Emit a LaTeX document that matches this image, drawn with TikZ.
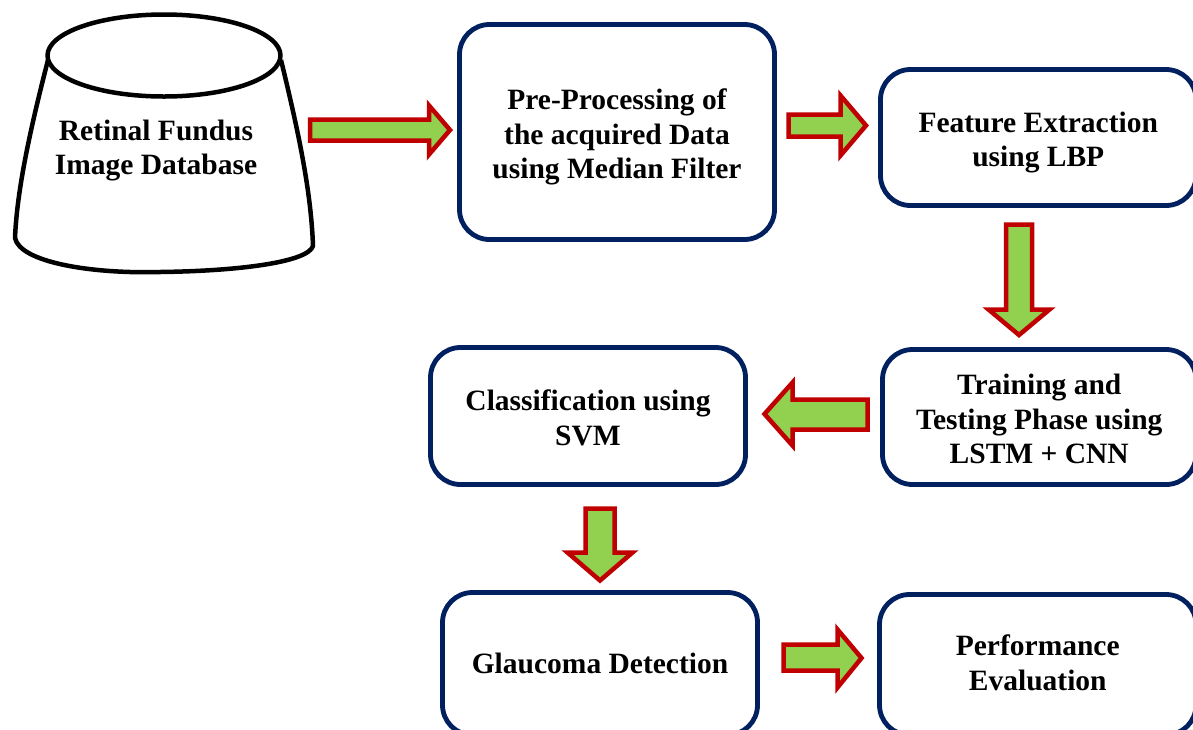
\documentclass[tikz,border=0pt]{standalone}
\usepackage{fontspec}
\setmainfont{Liberation Serif}
\definecolor{navy}{HTML}{002060}
\definecolor{arrred}{HTML}{C00000}
\definecolor{arrgreen}{HTML}{92D050}
\tikzset{
  txtfont/.style={font=\bfseries\fontsize{29.5}{34.5}\selectfont},
  box/.style={draw=navy, line width=4.8pt, rounded corners=30pt, fill=white, inner sep=0pt},
  txt/.style={align=center, inner sep=0pt, txtfont},
  barrow/.style={draw=arrred, fill=arrgreen, line width=4.5pt, line join=miter, miter limit=10},
  cone/.style={draw=black, fill=white, line width=4.5pt, line join=round},
}
\begin{document}
\begin{tikzpicture}[x=1pt,y=-1pt]
\useasboundingbox (0,0) rectangle (1193,729);
\clip (0,0) rectangle (1193,729);
\fill[white] (0,0) rectangle (1193,729);
% database (truncated cone)
\draw[cone] (48,60) .. controls (30,130) and (17,190) .. (15,238)
  .. controls (20,262) and (90,274) .. (160,272)
  .. controls (240,271) and (308,262) .. (313,246)
  .. controls (311,190) and (298,130) .. (281,60);
\draw[cone] (164,55.5) ellipse [x radius=116.5, y radius=41];
\node[txt] (db) at (156,150.5) {Retinal Fundus\\Image Database};
% boxes
\node[box, minimum width=315pt, minimum height=215pt] (pre) at (617,132) {};
\node[box, minimum width=315.5pt, minimum height=136pt] (feat) at (1038.25,137.5) {};
\node[box, minimum width=313.5pt, minimum height=135pt] (train) at (1039.25,417) {};
\node[box, minimum width=315pt, minimum height=137pt] (cls) at (588,416) {};
\node[box, minimum width=315pt, minimum height=142.5pt] (glau) at (600,663.75) {};
\node[box, minimum width=316.5pt, minimum height=140.5pt] (perf) at (1037.75,664.75) {};
% box texts
\node[txt] (pretxt) at ([yshift=-5pt]pre.center) {Pre-Processing of\\the acquired Data\\using Median Filter};
\node[txt] (feattxt) at ([yshift=-5pt]feat.center) {Feature Extraction\\using LBP};
\node[txt] (traintxt) at ([yshift=-2pt]train.center) {Training and\\Testing Phase using\\LSTM + CNN};
\node[txt] (clstxt) at ([yshift=-2pt]cls.center) {Classification using\\SVM};
\node[txt] (glautxt) at (glau.center) {Glaucoma Detection};
\node[txt] (perftxt) at ([yshift=2pt]perf.center) {Performance\\Evaluation};
% block arrows
\draw[barrow] (310,119.5) -- (429,119.5) -- (429,105.5) -- (450,130) -- (429,154.5) -- (429,140.5) -- (310,140.5) -- cycle;
\draw[barrow] (788.5,114.5) -- (840.5,114.5) -- (840.5,95.5) -- (866,125.5) -- (840.5,155.5) -- (840.5,136.5) -- (788.5,136.5) -- cycle;
\draw[barrow] (1006,224.5) -- (1032,224.5) -- (1032,309.5) -- (1049.5,309.5) -- (1019,335) -- (988.5,309.5) -- (1006,309.5) -- cycle;
\draw[barrow] (867.5,399.5) -- (792.5,399.5) -- (792.5,382.5) -- (764.5,414) -- (792.5,445.5) -- (792.5,429.5) -- (867.5,429.5) -- cycle;
\draw[barrow] (585.5,508.5) -- (614.5,508.5) -- (614.5,552.5) -- (632.5,552.5) -- (600,580.5) -- (567.5,552.5) -- (585.5,552.5) -- cycle;
\draw[barrow] (783.5,644.5) -- (837.5,644.5) -- (837.5,629.5) -- (861.5,658) -- (837.5,687.5) -- (837.5,670.5) -- (783.5,670.5) -- cycle;
\end{tikzpicture}
\end{document}
